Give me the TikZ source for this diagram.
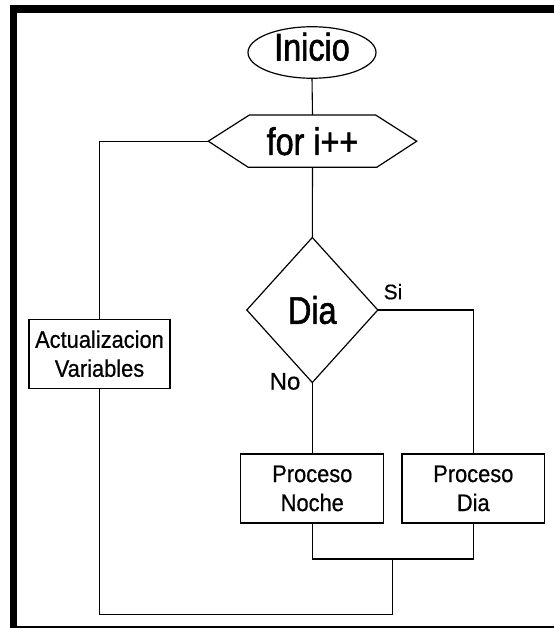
\documentclass[tikz,border=0pt]{standalone}
\usepackage{fontspec}
\setmainfont{Liberation Sans}[FakeBold=0.5]
\newfontfamily\bigfont[FakeStretch=0.84,FakeBold=1.4]{Liberation Sans}
\newfontfamily\smallfont[FakeStretch=0.91,FakeBold=0.6]{Liberation Sans}
\usetikzlibrary{shapes.geometric}
\begin{document}
\begin{tikzpicture}[x=1pt,y=-1pt,
  conn/.style={draw=black, line width=1.1pt},
  shapeline/.style={draw=black, line width=1.2pt, line join=miter},
  bigtext/.style={font={\bigfont\fontsize{38.5}{40}\selectfont}},
  boxnode/.style={rectangle, draw=black, line width=1.2pt, inner sep=0pt, outer sep=0pt,
    align=center, minimum height=69pt, font={\smallfont\fontsize{24}{29}\selectfont}},
  plainnode/.style={rectangle, inner sep=0pt, outer sep=0pt},
  lbl/.style={inner sep=0pt}
]
\useasboundingbox (0,0) rectangle (554,628);
\fill[white] (0,0) rectangle (554,628);
% frame
\fill[black] (9.5,5) rectangle (554,13);
\fill[black] (9.5,5) rectangle (17,628);
\fill[black] (9.5,625.8) rectangle (554,628);

% start
\node[ellipse, shapeline, minimum width=128pt, minimum height=51.5pt, inner sep=0pt, outer sep=0pt, bigtext]
  (ini) at (312,52.5) {\raisebox{-8pt}[0pt][0pt]{Inicio}};

% loop hexagon
\node[plainnode, minimum width=208.4pt, minimum height=52.3pt, bigtext] (for) at (312.5,141.2) {for i++};
\draw[shapeline] (for.west) -- ([xshift=41pt]for.north west) -- ([xshift=-41pt]for.north east)
  -- (for.east) -- ([xshift=-40pt]for.south east) -- ([xshift=40pt]for.south west) -- cycle;

% decision diamond
\node[plainnode, minimum width=131pt, minimum height=145pt, bigtext] (dia) at (312.3,310) {Dia};
\draw[shapeline] (dia.north) -- (dia.east) -- (dia.south) -- (dia.west) -- cycle;

% process boxes
\node[boxnode, minimum width=141pt] (act) at (99.5,353.7) {Actualizacion\\Variables};
\node[boxnode, minimum width=143pt] (pn) at (312.3,488.4) {Proceso\\Noche};
\node[boxnode, minimum width=142.5pt] (pd) at (473.3,488.4) {Proceso\\Dia};

% labels
\node[lbl, font={\fontsize{21}{23}\selectfont}] (si) at (393,291.7) {Si};
\node[lbl, font={\fontsize{24}{26}\selectfont}] (no) at (285,381.4) {No};

% connectors
\draw[conn] (ini.south) -- (for.north);
\draw[conn] (for.south) -- (dia.north);
\draw[conn] (for.west) -| (act.north);
\draw[conn] (dia.east) -| (pd.north);
\draw[conn] (dia.south) -- (pn.north);
\coordinate (jl) at (312.3,559);
\coordinate (jm) at (392.2,559);
\coordinate (jb) at (392.2,614.3);
\draw[conn] (pn.south) -- (jl) -| (pd.south);
\draw[conn] (jm) -- (jb) -| (act.south);
\end{tikzpicture}
\end{document}
